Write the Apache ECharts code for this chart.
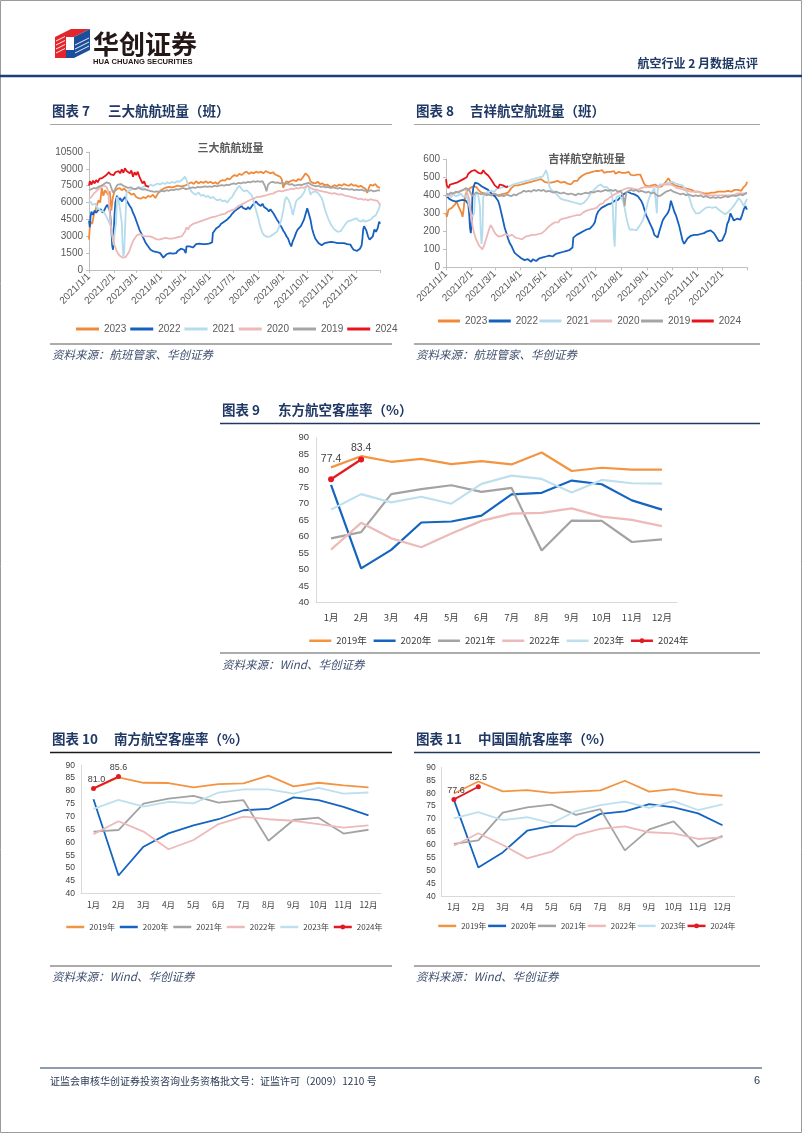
<!DOCTYPE html>
<html><head><meta charset="utf-8">
<script src="https://cdn.jsdelivr.net/npm/echarts@6/dist/echarts.min.js"></script>
<style>html,body{margin:0;padding:0;background:#fff;}#c{width:802px;height:1133px;}</style>
</head><body><div id="c"></div><script>
// ---------- axis / category data ----------
const FLIGHT_MONTH_DAYS = [0,31,59,90,120,151,181,212,243,273,304,334];
const FLIGHT_MONTH_LABELS = ['2021/1/1','2021/2/1','2021/3/1','2021/4/1','2021/5/1','2021/6/1','2021/7/1','2021/8/1','2021/9/1','2021/10/1','2021/11/1','2021/12/1'];
const FLIGHT_YEARS = ['2023','2022','2021','2020','2019','2024'];
const RATE_MONTHS = ['1月','2月','3月','4月','5月','6月','7月','8月','9月','10月','11月','12月'];
const RATE_YEARS = ['2019年','2020年','2021年','2022年','2023年','2024年'];

// ---------- 图表7 三大航航班量 [day of year, flights] ----------
const big3_2023 = [[0,2700],[1,3800],[2,4300],[4,4100],[6,4900],[8,5300],[10,5800],[12,6200],[14,6000],[16,7300],[18,6600],[20,7100],[22,7000],[24,6700],[26,7000],[27,6200],[28,5300],[29,6000],[30,6500],[32,7000],[35,7200],[38,7300],[41,7100],[44,7250],[47,7000],[50,6900],[53,6700],[56,6800],[59,6500],[62,6400],[65,6350],[68,6500],[71,6400],[74,6600],[77,6500],[80,6700],[83,6400],[86,6800],[90,7100],[95,7300],[100,7400],[105,7350],[110,7500],[115,7450],[120,7500],[125,7700],[128,7800],[131,7650],[134,7900],[137,7700],[140,7850],[143,7750],[146,7900],[149,7750],[152,7850],[155,7700],[158,7800],[161,7650],[164,7900],[167,8000],[170,7950],[173,8150],[176,8050],[179,8300],[182,8450],[185,8350],[188,8550],[191,8450],[194,8650],[197,8750],[200,8550],[203,8700],[206,8600],[209,8750],[212,8650],[215,8750],[218,8600],[221,8800],[224,8700],[227,8600],[230,8700],[233,8500],[236,8400],[239,8300],[241,8100],[243,7300],[245,7700],[247,7900],[250,7800],[253,7950],[256,8000],[259,7900],[262,8100],[265,8000],[268,8300],[271,8600],[273,8750],[275,8300],[277,7900],[280,7750],[283,7700],[286,7850],[289,7650],[292,7700],[295,7550],[298,7600],[301,7450],[304,7400],[307,7550],[310,7450],[313,7600],[316,7500],[319,7650],[322,7550],[325,7500],[328,7650],[331,7500],[334,7550],[337,7400],[340,7500],[343,7350],[346,7200],[348,6850],[350,7300],[352,7600],[355,7500],[358,7650],[361,7400],[364,7300]];
const big3_2022 = [[0,4400],[1,3800],[2,4800],[3,5200],[5,4900],[7,5300],[9,5100],[11,5300],[13,5200],[15,5400],[17,5100],[19,5300],[21,5600],[23,5800],[25,5900],[26,5300],[27,4500],[28,3600],[29,2200],[30,1800],[31,3500],[32,5000],[33,6000],[35,6600],[37,6200],[39,6400],[41,6100],[43,6300],[45,6500],[47,6200],[49,6100],[51,5700],[53,5500],[55,5100],[57,4800],[59,4400],[61,4000],[63,3600],[65,3300],[67,3000],[69,2700],[71,2400],[73,2200],[75,2000],[77,1800],[79,1700],[81,1650],[83,1500],[85,1600],[87,1450],[89,1500],[91,1350],[93,1100],[95,1050],[97,1400],[99,1300],[101,1500],[103,1350],[105,1450],[107,1600],[109,1500],[111,1700],[113,1750],[115,1900],[117,2000],[119,1800],[121,1500],[122,2100],[124,2000],[126,2100],[128,2200],[130,2000],[132,2150],[134,2300],[136,2200],[138,2350],[140,2400],[142,2300],[144,2450],[146,2300],[148,2400],[150,2350],[152,2300],[154,2450],[155,3300],[157,3500],[159,3700],[161,3800],[163,3900],[165,4100],[167,4200],[169,4300],[171,4200],[173,4500],[175,4600],[177,4800],[179,5000],[181,5100],[183,5300],[185,5400],[187,5500],[189,5600],[191,5700],[193,5500],[195,5600],[197,5400],[199,5600],[201,5400],[203,5600],[205,5800],[207,5900],[209,6100],[211,5900],[213,5800],[215,5700],[217,5900],[219,5600],[221,5500],[223,5400],[225,5200],[227,5400],[229,5300],[231,5000],[233,4900],[235,4500],[237,4300],[239,4000],[241,3800],[243,3500],[245,3300],[247,3000],[249,2800],[251,2400],[253,2100],[255,2600],[257,2900],[259,3300],[261,3600],[263,3700],[265,3900],[267,4200],[269,4500],[271,5000],[273,5500],[275,5000],[277,4500],[279,3700],[281,3200],[283,2800],[285,2600],[287,2400],[289,2300],[291,2200],[293,2250],[295,2400],[297,2350],[299,2450],[301,2400],[303,2500],[305,2350],[307,2450],[309,2300],[311,2400],[313,2350],[315,2400],[317,2300],[319,2400],[321,2250],[323,2300],[325,2150],[327,2250],[329,2000],[331,1800],[333,1650],[335,1700],[337,1600],[339,1900],[341,2200],[342,2800],[343,3600],[344,3900],[345,3800],[347,3500],[349,3000],[351,2700],[353,2600],[355,3000],[357,3600],[359,3400],[361,3700],[363,4300],[364,4100]];
const big3_2021 = [[0,5900],[2,6100],[4,5800],[6,5700],[8,5900],[10,5600],[12,5500],[14,5300],[16,5400],[18,5200],[20,5000],[22,4700],[24,4400],[26,4100],[28,3700],[30,2600],[31,2200],[32,3200],[34,4300],[35,6500],[37,6200],[39,5300],[41,4200],[42,2200],[43,1200],[44,1600],[45,3500],[47,6900],[49,7000],[51,7100],[53,7000],[55,7200],[57,7300],[59,7200],[62,7400],[65,7300],[68,7400],[71,7500],[74,7400],[77,7600],[80,7500],[83,7600],[86,7700],[89,7600],[92,7750],[95,7650],[98,7800],[101,7700],[104,7850],[107,7750],[110,7900],[113,7850],[116,8000],[118,8100],[120,8300],[122,8000],[124,7600],[126,7300],[128,7000],[131,6800],[134,6700],[137,6900],[140,6600],[143,6700],[146,6500],[149,6600],[152,6400],[155,6500],[158,6300],[161,6200],[164,6300],[167,6100],[170,6200],[173,6000],[176,6300],[179,6500],[182,6900],[185,7200],[188,7500],[191,7200],[194,7000],[197,7100],[200,6900],[203,6700],[205,6400],[207,5800],[209,5300],[211,4800],[213,4200],[215,3700],[217,3300],[219,3100],[221,3000],[223,2950],[225,3100],[227,3000],[229,3100],[231,3200],[233,3300],[235,3400],[237,3700],[239,4100],[241,4600],[243,5300],[245,6200],[247,6500],[249,6300],[251,6000],[253,5500],[255,4900],[257,5500],[259,6100],[261,6300],[263,6400],[265,6500],[267,6700],[269,6900],[271,7300],[273,7600],[275,7300],[277,6700],[279,6900],[281,6800],[283,7000],[285,7100],[287,6800],[289,6600],[291,6400],[293,6000],[295,5400],[297,5000],[299,4600],[301,4300],[303,4000],[305,3800],[307,3600],[309,3500],[311,3400],[313,3300],[315,3450],[317,3700],[319,3900],[321,4100],[323,4300],[325,4200],[327,4400],[329,4300],[331,4500],[333,4400],[335,4600],[337,4400],[339,4500],[341,4300],[343,4500],[345,4300],[347,4200],[349,4400],[351,4300],[353,4500],[355,4700],[357,4600],[359,4900],[361,5000],[363,5500],[364,5900]];
const big3_2020 = [[0,6300],[3,6500],[6,6800],[9,7000],[12,7200],[15,7400],[18,7500],[20,7600],[22,7400],[24,7000],[25,6000],[26,5000],[27,4200],[28,3600],[30,2800],[32,2200],[34,1800],[36,1500],[38,1300],[40,1200],[42,1100],[44,1050],[46,1150],[48,1300],[50,1600],[52,2000],[54,2400],[56,2700],[58,2900],[60,3100],[62,3000],[64,3200],[66,3100],[68,3000],[70,2900],[72,3000],[74,3100],[76,3000],[78,2850],[80,2900],[82,2800],[84,2750],[86,2850],[88,2700],[90,2600],[92,2800],[94,2700],[96,2850],[98,2700],[100,2800],[102,2900],[104,2800],[106,2950],[108,2850],[110,3000],[112,2950],[114,3100],[116,3000],[118,3200],[120,3400],[122,3800],[124,3600],[126,3900],[128,3800],[130,4100],[132,4000],[134,4200],[136,4150],[138,4300],[140,4250],[142,4400],[144,4350],[146,4500],[148,4450],[150,4600],[152,4550],[154,4700],[156,4800],[158,4750],[160,4900],[162,4850],[164,5000],[166,4950],[168,5100],[170,5000],[172,5100],[174,5200],[176,5150],[178,5300],[180,5250],[182,5400],[184,5500],[186,5650],[188,5700],[190,5800],[192,5900],[194,5950],[196,6000],[198,6100],[200,6150],[202,6250],[204,6300],[206,6350],[208,6450],[210,6500],[212,6550],[214,6500],[216,6650],[218,6600],[220,6700],[222,6650],[224,6800],[226,6750],[228,6850],[230,6800],[232,6900],[234,6950],[236,7000],[238,7050],[240,7100],[242,7000],[244,7150],[246,7100],[248,7200],[250,7150],[253,7250],[256,7200],[259,7300],[262,7250],[265,7350],[268,7300],[271,7400],[274,7500],[277,7300],[280,7200],[283,7150],[286,7100],[289,7050],[292,7000],[295,6950],[298,6900],[301,6850],[304,6800],[307,6850],[310,6750],[313,6700],[316,6750],[319,6650],[322,6600],[325,6550],[328,6500],[331,6450],[334,6400],[337,6300],[340,6350],[343,6250],[346,6300],[349,6200],[352,6300],[355,6250],[358,6200],[361,6150],[364,5800]];
const big3_2019 = [[0,7100],[3,7200],[6,7300],[9,7250],[12,7400],[15,7500],[18,7600],[20,7700],[22,7800],[24,7900],[26,7700],[28,7300],[30,6900],[32,7100],[34,7400],[36,7600],[38,7700],[40,7650],[43,7500],[46,7400],[49,7300],[52,7350],[55,7250],[58,7200],[61,7300],[64,7250],[67,7150],[70,7200],[73,7100],[76,7050],[79,7000],[82,6950],[85,7000],[88,6950],[91,7050],[94,7000],[97,7100],[100,7050],[103,7150],[106,7100],[109,7200],[112,7150],[115,7250],[118,7300],[121,7200],[124,7250],[127,7300],[130,7350],[133,7300],[136,7400],[139,7350],[142,7400],[145,7450],[148,7400],[151,7450],[154,7400],[157,7500],[160,7450],[163,7500],[166,7550],[169,7500],[172,7600],[175,7550],[178,7650],[181,7700],[184,7650],[187,7750],[190,7700],[193,7800],[196,7750],[199,7850],[202,7800],[205,7900],[208,7850],[211,7900],[214,7850],[217,7900],[220,7500],[222,7000],[224,7600],[227,7800],[230,7850],[233,7750],[236,7800],[239,7700],[242,7750],[245,7650],[248,7700],[251,7600],[254,7650],[257,7500],[260,7550],[263,7600],[266,7550],[269,7650],[272,7700],[275,7750],[278,7600],[281,7500],[284,7450],[287,7500],[290,7400],[293,7450],[296,7350],[299,7400],[302,7300],[305,7350],[308,7300],[311,7250],[314,7300],[317,7200],[320,7250],[323,7200],[326,7150],[329,7200],[332,7100],[335,7150],[338,7100],[341,7150],[344,7050],[347,7100],[350,7050],[353,7100],[356,7000],[359,7050],[362,7100],[364,7050]];
const big3_2024 = [[0,7500],[1,7900],[3,7600],[5,7950],[7,7700],[9,8000],[11,7800],[13,8100],[15,7950],[17,8200],[19,8050],[21,8400],[23,8250],[25,8700],[27,8500],[29,8650],[31,8450],[33,8700],[35,8550],[37,8800],[39,8600],[41,8950],[43,8650],[45,9050],[47,8800],[49,8900],[51,8600],[53,8850],[55,8300],[57,8700],[59,8450],[61,8750],[63,8300],[65,8000],[67,7700],[69,7900],[71,7500],[73,7650],[75,7400]];

// ---------- 图表8 吉祥航空航班量 [day of year, flights] ----------
const jy_2023 = [[0,300],[1,280],[3,320],[5,310],[7,330],[9,325],[11,350],[13,365],[15,340],[17,330],[19,300],[20,280],[21,310],[23,395],[25,420],[27,430],[29,440],[31,445],[33,450],[35,440],[37,445],[39,430],[41,425],[43,415],[45,420],[47,410],[49,415],[51,405],[53,410],[55,400],[57,395],[59,400],[61,390],[63,400],[65,395],[67,405],[69,400],[71,410],[73,405],[75,415],[77,420],[79,440],[81,450],[83,455],[85,460],[87,455],[89,465],[91,460],[93,470],[95,465],[97,475],[99,470],[101,480],[103,475],[105,485],[107,480],[109,490],[111,485],[113,495],[115,490],[117,485],[119,475],[121,480],[123,470],[125,475],[127,470],[129,480],[131,475],[133,470],[135,480],[137,475],[139,470],[141,465],[143,475],[145,470],[147,465],[149,470],[151,460],[153,470],[155,480],[157,490],[159,480],[161,495],[163,500],[165,510],[167,505],[169,520],[171,530],[173,525],[175,535],[177,530],[179,540],[181,535],[183,545],[185,535],[187,530],[189,540],[191,525],[193,535],[195,530],[197,520],[199,530],[201,525],[203,535],[205,520],[207,525],[209,530],[211,520],[213,525],[215,515],[217,525],[219,520],[221,530],[223,515],[225,520],[227,510],[229,520],[231,515],[233,505],[235,515],[237,505],[239,470],[241,455],[243,445],[245,450],[247,440],[249,455],[251,445],[253,460],[255,450],[257,445],[259,455],[261,450],[263,460],[265,470],[267,480],[269,495],[271,480],[273,465],[275,460],[277,455],[279,460],[281,450],[283,455],[285,445],[287,450],[289,440],[291,445],[293,435],[295,440],[297,430],[299,425],[301,420],[303,415],[305,420],[307,410],[309,415],[311,405],[313,410],[315,400],[317,410],[319,405],[321,415],[323,405],[325,415],[327,410],[329,420],[331,415],[333,420],[335,410],[337,420],[339,415],[341,425],[343,415],[345,420],[347,425],[349,430],[351,420],[353,430],[355,435],[357,425],[359,440],[361,445],[363,460],[364,475]];
const jy_2022 = [[0,400],[2,390],[4,380],[6,375],[8,370],[10,380],[12,365],[14,375],[16,370],[18,365],[20,375],[22,380],[24,370],[26,380],[27,350],[28,300],[29,220],[30,190],[31,250],[32,400],[33,440],[35,470],[37,475],[39,465],[41,460],[43,450],[45,455],[47,440],[49,445],[51,430],[53,420],[55,410],[57,405],[59,395],[61,385],[63,370],[65,340],[67,300],[69,260],[71,220],[73,190],[75,160],[77,135],[79,120],[81,100],[83,80],[85,75],[87,65],[89,55],[91,50],[93,45],[95,40],[97,35],[99,45],[101,40],[103,30],[105,45],[107,40],[109,35],[111,45],[113,50],[115,45],[117,55],[119,50],[121,60],[123,55],[125,65],[127,55],[129,60],[131,70],[133,75],[135,70],[137,80],[139,75],[141,85],[143,80],[145,90],[147,85],[149,95],[151,100],[153,110],[154,165],[156,175],[158,180],[160,185],[162,190],[164,195],[166,200],[168,205],[170,210],[172,220],[174,215],[176,225],[178,235],[180,250],[182,290],[184,310],[186,320],[188,330],[190,335],[192,340],[194,345],[196,350],[198,360],[200,355],[202,365],[204,370],[206,380],[208,375],[210,385],[212,395],[214,405],[216,410],[218,415],[220,420],[222,415],[224,410],[226,420],[228,405],[230,400],[232,395],[234,390],[236,370],[238,350],[240,320],[242,290],[244,270],[246,250],[248,230],[250,210],[252,180],[254,170],[256,165],[258,200],[260,230],[262,260],[264,275],[266,280],[268,300],[270,320],[272,370],[274,340],[276,310],[278,290],[280,260],[282,230],[284,190],[286,150],[288,130],[290,145],[292,160],[294,165],[296,175],[298,170],[300,180],[302,175],[304,180],[306,170],[308,185],[310,180],[312,190],[314,195],[316,200],[318,210],[320,205],[322,200],[324,190],[326,180],[328,160],[330,145],[332,135],[334,150],[336,170],[338,190],[340,240],[342,260],[344,300],[346,280],[348,260],[350,265],[352,270],[354,275],[356,265],[358,290],[360,320],[362,340],[364,320]];
const jy_2021 = [[0,395],[3,400],[6,390],[9,405],[12,395],[15,400],[18,410],[21,390],[24,400],[26,380],[28,340],[30,300],[32,280],[34,300],[35,390],[37,420],[39,400],[41,340],[42,200],[43,130],[44,180],[45,390],[47,410],[49,415],[51,420],[53,410],[55,425],[57,430],[59,420],[61,435],[63,430],[65,440],[67,435],[69,445],[71,440],[73,450],[75,445],[77,450],[79,455],[81,460],[83,455],[85,465],[87,460],[89,470],[91,465],[93,475],[95,470],[97,480],[99,475],[101,485],[103,480],[105,490],[107,480],[109,495],[111,485],[113,500],[115,495],[117,505],[119,520],[121,540],[123,510],[125,450],[127,430],[129,425],[131,420],[133,410],[135,400],[137,390],[139,380],[141,370],[143,375],[145,365],[147,370],[149,360],[151,365],[153,355],[155,360],[157,350],[159,355],[161,345],[163,350],[165,355],[167,360],[169,370],[171,380],[173,390],[175,410],[177,420],[179,430],[181,440],[183,450],[185,455],[187,460],[189,450],[191,445],[193,455],[195,445],[197,435],[199,420],[201,400],[202,300],[203,170],[204,115],[205,250],[206,390],[208,395],[210,400],[212,390],[214,370],[216,330],[218,280],[220,240],[222,210],[224,205],[226,210],[228,200],[230,205],[232,215],[234,230],[236,240],[238,260],[240,290],[242,320],[244,360],[246,390],[248,410],[250,420],[252,440],[254,450],[255,300],[256,430],[258,460],[260,465],[262,460],[264,470],[266,465],[268,475],[270,470],[272,480],[274,475],[276,470],[278,465],[280,470],[282,460],[284,465],[286,455],[288,450],[290,430],[292,410],[294,390],[296,360],[298,330],[300,320],[302,300],[304,295],[306,300],[308,310],[310,315],[312,320],[314,330],[316,340],[318,335],[320,340],[322,330],[324,340],[326,335],[328,325],[330,320],[332,310],[334,305],[336,300],[338,295],[340,300],[342,310],[344,320],[346,330],[348,340],[350,355],[352,370],[354,385],[356,375],[358,360],[360,340],[362,360],[364,380]];
const jy_2020 = [[0,395],[3,400],[6,405],[9,410],[12,415],[15,420],[18,425],[21,430],[24,435],[26,430],[28,380],[30,300],[32,230],[34,190],[36,160],[38,140],[40,120],[42,110],[44,100],[46,120],[48,150],[50,180],[52,210],[54,235],[56,220],[58,200],[60,185],[62,175],[64,170],[66,165],[68,175],[70,180],[72,185],[74,180],[76,175],[78,170],[80,180],[82,175],[84,165],[86,170],[88,160],[90,165],[92,155],[94,160],[96,170],[98,165],[100,175],[102,170],[104,180],[106,175],[108,180],[110,175],[112,185],[114,180],[116,190],[118,195],[120,205],[122,215],[124,225],[126,235],[128,240],[130,245],[132,250],[134,255],[136,250],[138,265],[140,260],[142,270],[144,265],[146,275],[148,270],[150,280],[152,275],[154,285],[156,280],[158,290],[160,295],[162,290],[164,300],[166,305],[168,300],[170,315],[172,325],[174,320],[176,330],[178,325],[180,335],[182,330],[184,340],[186,350],[188,360],[190,355],[192,370],[194,365],[196,380],[198,390],[200,395],[202,400],[204,405],[206,410],[208,415],[210,420],[212,425],[214,430],[216,435],[218,430],[220,440],[222,435],[224,440],[226,430],[228,435],[230,440],[232,430],[234,435],[236,440],[238,435],[240,445],[242,440],[244,445],[246,450],[248,445],[250,455],[252,450],[254,455],[256,445],[258,450],[260,455],[262,450],[264,460],[266,455],[268,460],[270,465],[272,460],[274,455],[276,450],[278,445],[280,440],[282,445],[284,435],[286,440],[288,430],[290,435],[292,425],[294,430],[296,420],[298,425],[300,420],[302,415],[304,420],[306,410],[308,415],[310,410],[312,405],[314,410],[316,400],[318,405],[320,400],[322,405],[324,400],[326,395],[328,400],[330,395],[332,400],[334,395],[336,400],[338,395],[340,400],[342,395],[344,400],[346,405],[348,400],[350,405],[352,410],[354,405],[356,410],[358,405],[360,410],[362,405],[364,410]];
const jy_2019 = [[0,410],[3,405],[6,415],[9,410],[12,420],[15,415],[18,425],[21,430],[24,440],[26,445],[28,430],[30,410],[32,395],[34,400],[36,415],[38,420],[40,410],[43,405],[46,410],[49,400],[52,405],[55,400],[58,410],[61,405],[64,395],[67,400],[70,395],[73,405],[76,400],[79,395],[82,405],[85,400],[88,410],[91,415],[94,425],[97,420],[100,425],[103,420],[106,430],[109,425],[112,430],[115,425],[118,430],[121,420],[124,425],[127,420],[130,415],[133,420],[136,415],[139,410],[142,415],[145,410],[148,405],[151,410],[154,405],[157,400],[160,410],[163,405],[166,410],[169,415],[172,410],[175,420],[178,415],[181,420],[184,425],[187,420],[190,425],[193,430],[196,425],[199,430],[202,425],[205,430],[208,420],[211,425],[213,410],[215,380],[216,340],[217,380],[218,415],[221,425],[224,430],[227,425],[230,430],[233,420],[236,425],[239,420],[242,415],[245,420],[248,410],[251,415],[254,405],[257,395],[260,400],[263,410],[266,420],[269,425],[272,430],[275,420],[278,415],[281,410],[284,405],[287,410],[290,400],[293,405],[296,400],[299,395],[302,400],[305,395],[308,400],[311,390],[314,395],[317,390],[320,385],[323,390],[326,385],[329,390],[332,385],[335,390],[338,395],[341,390],[344,395],[347,400],[350,395],[353,400],[356,405],[359,400],[362,410],[364,415]];
const jy_2024 = [[0,490],[1,455],[3,440],[5,460],[7,450],[9,465],[11,455],[13,470],[15,465],[17,480],[19,470],[21,490],[23,485],[25,500],[27,520],[29,510],[31,535],[33,525],[35,540],[37,530],[39,525],[41,535],[43,520],[45,540],[47,525],[49,535],[51,510],[53,500],[55,485],[57,470],[59,455],[61,445],[63,440],[65,460],[67,470],[69,455],[71,460],[73,445],[75,450]];

// ---------- 图表9 东方航空客座率 (%) ----------
const ces_2019 = [81.0,84.4,82.7,83.6,82.0,82.9,81.9,85.5,79.9,80.9,80.3,80.3];
const ces_2020 = [75.7,50.4,56.0,64.3,64.6,66.4,72.8,73.3,77.0,75.9,71.0,68.2];
const ces_2021 = [59.5,61.4,72.9,74.4,75.6,73.6,74.8,55.8,64.9,64.8,58.4,59.2];
const ces_2022 = [56.1,64.2,59.5,56.8,61.0,64.8,67.0,67.2,68.6,66.1,65.1,63.2];
const ces_2023 = [68.2,72.9,70.4,72.1,70.0,76.0,78.5,77.5,73.4,77.2,76.2,76.1];
const ces_2024 = [77.4,83.4];

// ---------- 图表10 南方航空客座率 (%) ----------
const csa_2019 = [80.9,85.3,83.2,83.1,81.4,82.7,83.0,86.0,81.8,83.2,82.2,81.4];
const csa_2020 = [76.8,47.1,58.3,63.5,66.6,69.0,72.5,73.0,77.5,76.4,73.8,70.5];
const csa_2021 = [64.2,64.8,75.1,77.0,78.1,75.5,76.4,60.6,68.7,69.6,63.4,64.9];
const csa_2022 = [63.2,68.2,64.2,57.3,60.9,67.1,70.0,69.0,68.4,67.1,65.7,66.6];
const csa_2023 = [73.0,76.5,73.9,75.8,75.2,79.4,80.6,80.6,79.0,81.2,79.0,79.4];
const csa_2024 = [81.0,85.6];

// ---------- 图表11 中国国航客座率 (%) ----------
const ca_2019 = [79.9,84.5,80.7,81.2,80.1,80.6,81.1,84.8,80.6,81.6,79.7,79.0];
const ca_2020 = [77.4,51.3,57.1,65.5,67.4,67.2,72.0,73.0,75.8,74.5,72.2,67.6];
const ca_2021 = [60.4,61.8,72.5,74.5,75.6,71.6,73.8,57.9,66.0,69.1,59.3,63.5];
const ca_2022 = [59.7,64.5,60.0,54.8,57.4,63.8,66.2,67.2,64.9,64.5,62.3,62.9];
const ca_2023 = [70.3,72.7,69.6,70.7,68.4,73.1,75.4,76.7,74.3,76.9,73.5,75.7];
const ca_2024 = [77.6,82.5];

// ---------- styling ----------
const FLIGHT_COLORS = {'2023':'#F08A3A','2022':'#1660BE','2021':'#B5DCEC','2020':'#ECB8B8','2019':'#A5A5A5','2024':'#E8141C'};
const RATE_COLORS = {'2019年':'#F39443','2020年':'#1565C0','2021年':'#A3A3A3','2022年':'#EDB9B9','2023年':'#BEE0EE','2024年':'#E31A22'};
const CJK = '"Noto Sans CJK SC"';
const LAT = '"Liberation Sans", Arial';

const chart = echarts.init(document.getElementById('c'), null, {renderer:'canvas'});

const grids = [], xAxes = [], yAxes = [], series = [], legends = [];

function flightChart(gi, box, yMax, yInt, dataByYear, legendBox) {
  grids.push({left:box.l, top:box.t, width:box.w, height:box.h, containLabel:false});
  xAxes.push({gridIndex:gi, type:'value', min:0, max:364,
    axisLine:{lineStyle:{color:'#BFBFBF', width:1}},
    axisTick:{show:true, customValues:FLIGHT_MONTH_DAYS.concat([364]), length:3, lineStyle:{color:'#BFBFBF'}},
    axisLabel:{customValues:FLIGHT_MONTH_DAYS, rotate:45, fontSize:10, color:'#595959', fontFamily:LAT, margin:5,
      formatter:v => FLIGHT_MONTH_LABELS[FLIGHT_MONTH_DAYS.indexOf(v)] || ''},
    splitLine:{show:false}});
  yAxes.push({gridIndex:gi, type:'value', min:0, max:yMax, interval:yInt,
    axisLine:{show:true, lineStyle:{color:'#BFBFBF'}},
    axisTick:{show:true, length:3, lineStyle:{color:'#BFBFBF'}},
    axisLabel:{fontSize:10, color:'#595959', fontFamily:LAT, margin:6, formatter:v => String(v)},
    splitLine:{show:false}});
  FLIGHT_YEARS.forEach(y => {
    series.push({type:'line', name:y, xAxisIndex:gi, yAxisIndex:gi, data:dataByYear[y],
      symbol:'none', smooth:false, animation:false,
      lineStyle:{color:FLIGHT_COLORS[y], width:1.8}, itemStyle:{color:FLIGHT_COLORS[y]}});
  });
  legends.push({data:FLIGHT_YEARS, left:legendBox.l, top:legendBox.t, itemWidth:legendBox.iw, itemHeight:3,
    itemGap:legendBox.gap, icon:'rect', textStyle:{fontSize:10, color:'#595959', fontFamily:LAT},
    selectedMode:false});
}

function rateChart(gi, box, byYear, fs, lw, symSize, labelCfg, legendBox) {
  grids.push({left:box.l, top:box.t, width:box.w, height:box.h, containLabel:false});
  xAxes.push({gridIndex:gi, type:'category', data:RATE_MONTHS, boundaryGap:true,
    axisLine:{lineStyle:{color:'#D9D9D9'}}, axisTick:{show:false},
    axisLabel:{fontSize:fs, color:'#404040', fontFamily:CJK, margin:box.xm}, splitLine:{show:false}});
  yAxes.push({gridIndex:gi, type:'value', min:40, max:90, interval:5,
    axisLine:{show:true, lineStyle:{color:'#D9D9D9'}}, axisTick:{show:false},
    axisLabel:{fontSize:fs, color:'#404040', fontFamily:LAT, margin:box.ym}, splitLine:{show:false}});
  RATE_YEARS.forEach(y => {
    const isNew = y === '2024年';
    const s = {type:'line', name:y, xAxisIndex:gi, yAxisIndex:gi, animation:false,
      lineStyle:{color:RATE_COLORS[y], width:lw}, itemStyle:{color:RATE_COLORS[y]},
      symbol: isNew ? 'circle' : 'none', symbolSize: symSize, showSymbol: isNew};
    if (isNew) {
      s.data = byYear[y].map((v,i) => ({value:v, label:{offset:[labelCfg.dx[i], labelCfg.dy[i]]}}));
      s.label = {show:true, position:'top', distance:labelCfg.dist, fontSize:labelCfg.fs, color:'#404040',
        fontFamily:LAT, formatter:p => Number(p.value).toFixed(1)};
      s.z = 5;
    } else {
      s.data = byYear[y];
    }
    series.push(s);
  });
  const HIDE = {color:'rgba(0,0,0,0)', borderColor:'rgba(0,0,0,0)', borderWidth:0};
  legends.push({
    data:RATE_YEARS.map(n => n === '2024年' ? {name:n} : {name:n, itemStyle:HIDE}),
    left:legendBox.l, top:legendBox.t, itemWidth:legendBox.iw, itemHeight:6,
    itemGap:legendBox.gap, textStyle:{fontSize:legendBox.fs, color:'#404040', fontFamily:CJK},
    lineStyle:{width:2.5}, selectedMode:false});
}

flightChart(0, {l:89, t:152, w:291, h:118}, 10500, 1500,
  {'2023':big3_2023,'2022':big3_2022,'2021':big3_2021,'2020':big3_2020,'2019':big3_2019,'2024':big3_2024},
  {l:71, t:319, iw:23, gap:4});
flightChart(1, {l:446, t:159.3, w:301, h:108}, 600, 100,
  {'2023':jy_2023,'2022':jy_2022,'2021':jy_2021,'2020':jy_2020,'2019':jy_2019,'2024':jy_2024},
  {l:433, t:311, iw:22, gap:1.5});
rateChart(2, {l:316, t:437.7, w:361, h:165, xm:10, ym:7},
  {'2019年':ces_2019,'2020年':ces_2020,'2021年':ces_2021,'2022年':ces_2022,'2023年':ces_2023,'2024年':ces_2024},
  9.5, 2.2, 6, {dist:3, fs:10.5, dx:[0,0], dy:[-9,0]},
  {l:303, t:631, iw:22, gap:5.5, fs:9.5});
rateChart(3, {l:81, t:765.3, w:300, h:128.4, xm:7, ym:6},
  {'2019年':csa_2019,'2020年':csa_2020,'2021年':csa_2021,'2022年':csa_2022,'2023年':csa_2023,'2024年':csa_2024},
  8.5, 1.8, 5, {dist:2, fs:9, dx:[3,0], dy:[0,0]},
  {l:60, t:918, iw:18, gap:3.5, fs:8});
rateChart(4, {l:441.7, t:767.3, w:293, h:129.4, xm:6, ym:6},
  {'2019年':ca_2019,'2020年':ca_2020,'2021年':ca_2021,'2022年':ca_2022,'2023年':ca_2023,'2024年':ca_2024},
  8.5, 1.8, 5, {dist:2, fs:9, dx:[2,0], dy:[0,0]},
  {l:432, t:917, iw:18, gap:0.5, fs:7.8});

// ---------- page graphics (header, captions, sources, footer) ----------
const G = [];
function T(x, y, text, font, fill, align, extra) {
  G.push(Object.assign({type:'text', x:x, y:y, silent:true, z:10,
    style:{text:text, font:font, fill:fill, textAlign:align || 'left', textVerticalAlign:'middle'}}, extra || {}));
}
function L(x1, y1, x2, y2, stroke, w) {
  G.push({type:'line', silent:true, shape:{x1:x1, y1:y1, x2:x2, y2:y2}, style:{stroke:stroke, lineWidth:w}});
}
function P(points, fill) {
  G.push({type:'polygon', silent:true, shape:{points:points}, style:{fill:fill}});
}
// page border
G.push({type:'rect', silent:true, shape:{x:0.5, y:0.5, width:801, height:1132}, style:{fill:'none', stroke:'#9A9A9A', lineWidth:1}});
// logo icon
P([[55,37],[71,29],[90,29],[74,37]], '#E3262B');
P([[55,37],[66,37],[66,58],[55,58]], '#E3262B');
P([[74,37],[90,29],[90,50],[74,58]], '#1B4E9B');
P([[66,50],[74,50],[74,58],[66,58]], '#1B4E9B');
for (let k = 0; k < 4; k++) { L(56, 41 + k*4, 65, 36.5 + k*4, '#ffffff', 0.9); }
for (let k = 0; k < 3; k++) { L(75, 45 + k*4, 89, 38 + k*4, '#ffffff', 0.9); }
T(93, 44, '华创证券', 'bold 26px ' + CJK, '#231815');
T(93, 62, 'HUA CHUANG SECURITIES', 'bold 7.6px ' + LAT, '#231815');
T(758, 63, '航空行业 2 月数据点评', 'bold 12px ' + CJK, '#1F3864', 'right');
L(0, 76, 802, 76, '#1F3D7A', 2.5);

const TITLE_FONT = 'bold 13.5px ' + CJK, TITLE_C = '#1F3864';
const SRC_FONT = 'italic 11.5px ' + CJK, SRC_C = '#3E4F6E';
// chart 7 / 8 captions
T(52, 111, '图表 7', TITLE_FONT, TITLE_C); T(108, 111, '三大航航班量（班）', TITLE_FONT, TITLE_C);
L(50, 124.5, 392, 124.5, '#A6A6A6', 1);
T(416, 111, '图表 8', TITLE_FONT, TITLE_C); T(470, 111, '吉祥航空航班量（班）', TITLE_FONT, TITLE_C);
L(414, 124.5, 760, 124.5, '#A6A6A6', 1);
T(230.5, 148, '三大航航班量', 'bold 11px ' + CJK, '#595959', 'center');
T(586.7, 159, '吉祥航空航班量', 'bold 11px ' + CJK, '#595959', 'center');
L(50, 344, 392, 344, '#595959', 1); T(52, 355, '资料来源：航班管家、华创证券', SRC_FONT, SRC_C);
L(414, 344, 760, 344, '#595959', 1); T(416, 355, '资料来源：航班管家、华创证券', SRC_FONT, SRC_C);
// chart 9
T(222, 410, '图表 9', TITLE_FONT, TITLE_C); T(278, 410, '东方航空客座率（%）', TITLE_FONT, TITLE_C);
L(220, 423.5, 760, 423.5, '#1F3864', 1.5);
L(220, 653, 760, 653, '#595959', 1); T(222, 665, '资料来源：Wind、华创证券', SRC_FONT, SRC_C);
// chart 10 / 11
T(52, 739, '图表 10', TITLE_FONT, TITLE_C); T(114, 739, '南方航空客座率（%）', TITLE_FONT, TITLE_C);
L(50, 752.5, 392, 752.5, '#1A1A1A', 1.5);
T(416, 739, '图表 11', TITLE_FONT, TITLE_C); T(478, 739, '中国国航客座率（%）', TITLE_FONT, TITLE_C);
L(414, 752.5, 760, 752.5, '#1F3864', 1.5);
L(50, 966, 392, 966, '#595959', 1); T(52, 977, '资料来源：Wind、华创证券', SRC_FONT, SRC_C);
L(414, 966, 760, 966, '#595959', 1); T(416, 977, '资料来源：Wind、华创证券', SRC_FONT, SRC_C);
// footer
L(40, 1068, 762, 1068, '#1F3864', 1);
T(50, 1081, '证监会审核华创证券投资咨询业务资格批文号：证监许可（2009）1210 号', '10px ' + CJK, '#2B3A55');
T(760, 1081, '6', '11px ' + LAT, '#2B3A55', 'right');

chart.setOption({
  backgroundColor:'#ffffff',
  animation:false,
  grid:grids, xAxis:xAxes, yAxis:yAxes, legend:legends, series:series,
  graphic:G
});
</script></body></html>
